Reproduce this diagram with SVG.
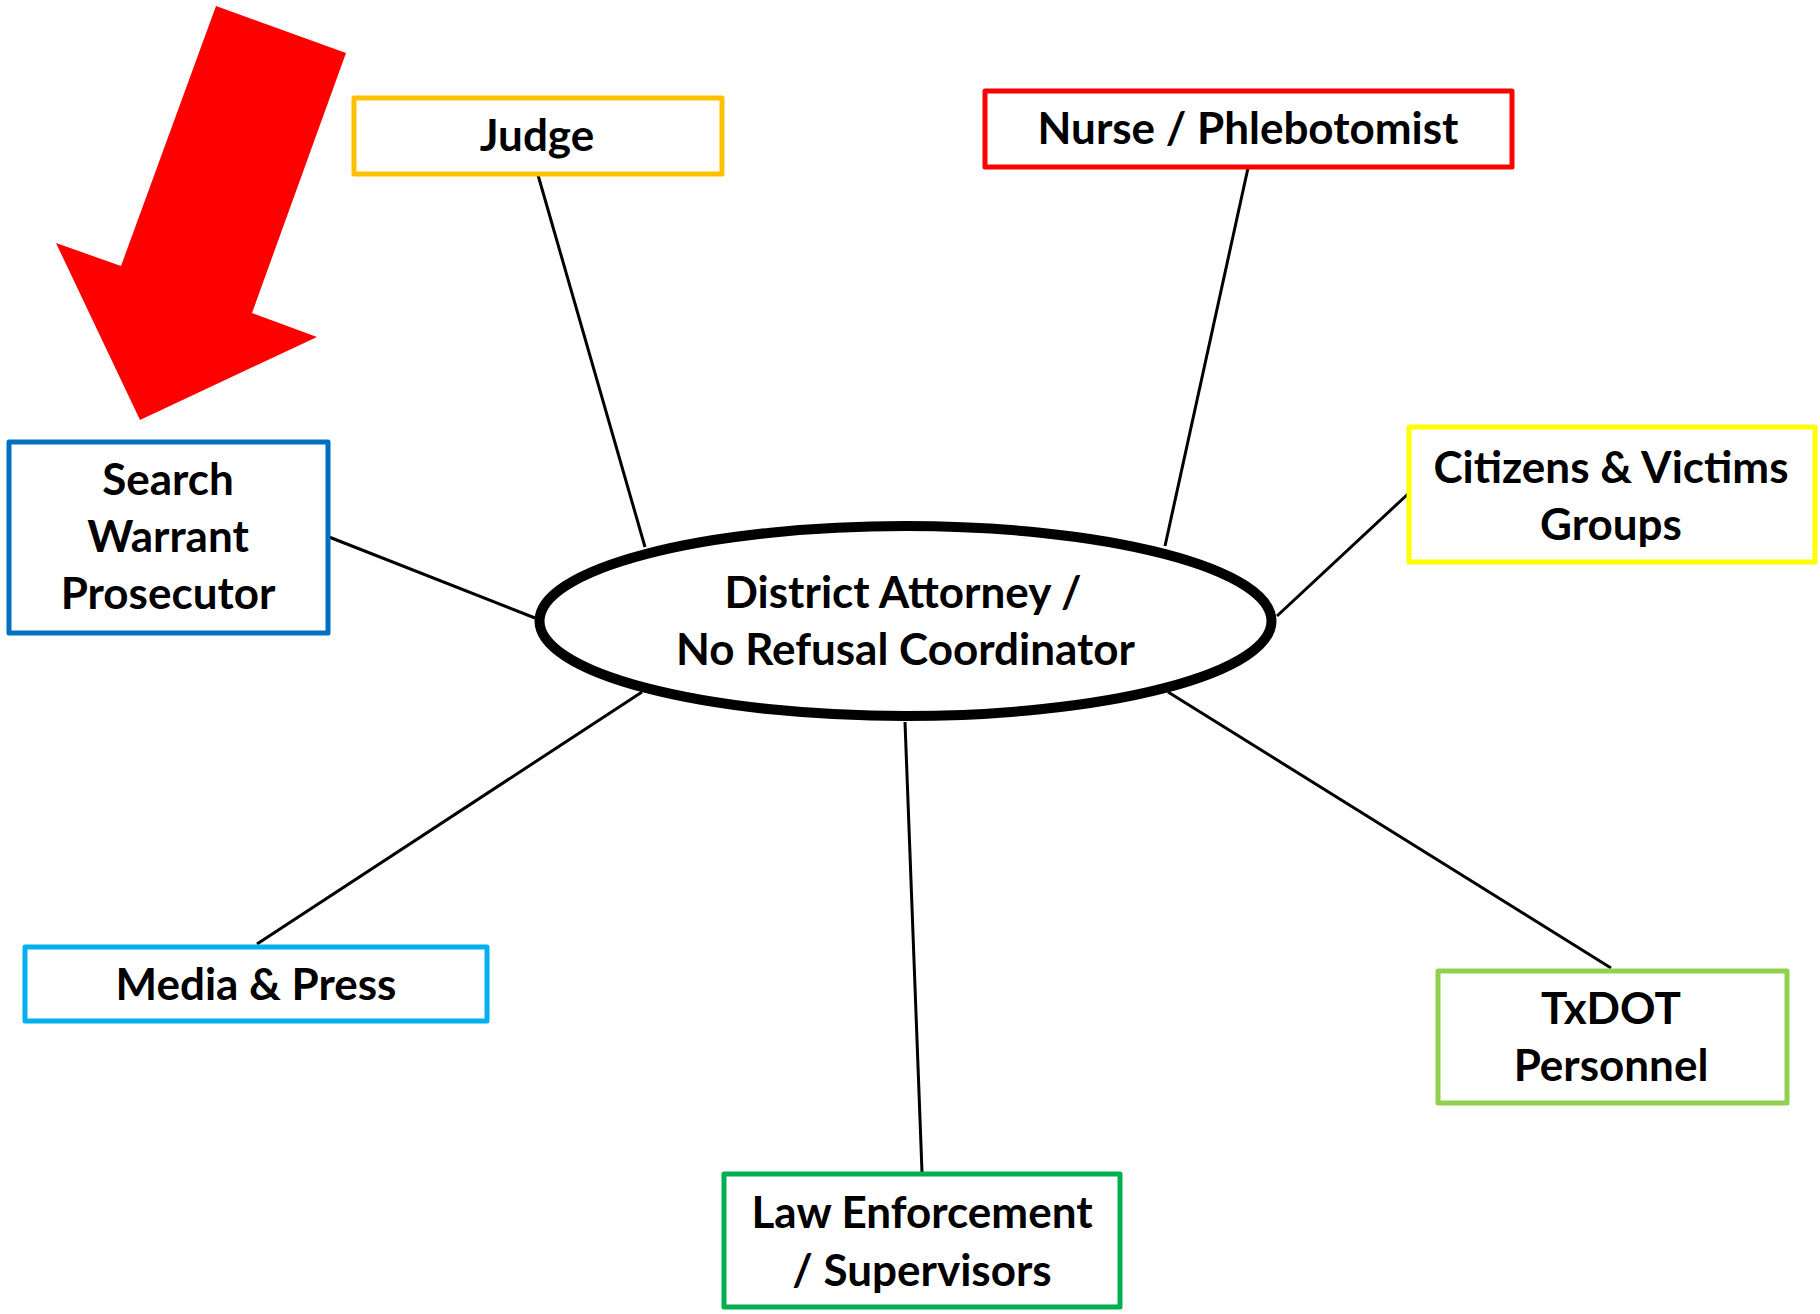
<svg xmlns="http://www.w3.org/2000/svg" width="1820" height="1314" viewBox="0 0 1820 1314">
<style>
.box{fill:#fff;stroke-width:5;stroke-linejoin:round}
.t{font-family:Lato,"Open Sans","Liberation Sans",sans-serif;font-weight:bold;font-size:44px;fill:#000;text-anchor:middle}
.c{stroke:#000;stroke-width:3;fill:none}
</style>
<rect width="1820" height="1314" fill="#fff"/>
<g id="arrow">
<polygon points="216,6 346,53 252,313 317,337 140,420 56,243 121,266" fill="#FF0000"/>
</g>
<g id="connectors">
<line class="c" x1="538" y1="175" x2="645" y2="547"/>
<line class="c" x1="1248" y1="168" x2="1165" y2="546"/>
<line class="c" x1="1409" y1="493" x2="1277" y2="616"/>
<line class="c" x1="329" y1="537" x2="535" y2="618"/>
<line class="c" x1="257" y1="944" x2="642" y2="692"/>
<line class="c" x1="905" y1="722" x2="922" y2="1172"/>
<line class="c" x1="1168" y1="692" x2="1611" y2="968"/>
</g>
<g id="center">
<ellipse cx="905.5" cy="621" rx="366" ry="95" fill="#fff" stroke="#000" stroke-width="10"/>
<text class="t" x="903" y="608">District Attorney /</text>
<text class="t" x="905.5" y="665">No Refusal Coordinator</text>
</g>
<g id="judge">
<rect class="box" x="354" y="98" width="368" height="76" stroke="#FFC000"/>
<text class="t" x="537" y="151">Judge</text>
</g>
<g id="nurse">
<rect class="box" x="985" y="91" width="527" height="76" stroke="#FF0000"/>
<text class="t" x="1248" y="144">Nurse / Phlebotomist</text>
</g>
<g id="citizens">
<rect class="box" x="1409" y="427" width="406" height="135" stroke="#FFFF00"/>
<text class="t" x="1611" y="482.5">Citizens &amp; Victims</text>
<text class="t" x="1611" y="540">Groups</text>
</g>
<g id="search">
<rect class="box" x="9" y="442" width="319" height="191" stroke="#0070C0"/>
<text class="t" x="168" y="495">Search</text>
<text class="t" x="168" y="552">Warrant</text>
<text class="t" x="168" y="609">Prosecutor</text>
</g>
<g id="media">
<rect class="box" x="25" y="947" width="462" height="74" stroke="#00B0F0"/>
<text class="t" x="256" y="1000">Media &amp; Press</text>
</g>
<g id="law">
<rect class="box" x="724" y="1174" width="396" height="133" stroke="#00B050"/>
<text class="t" x="922" y="1228">Law Enforcement</text>
<text class="t" x="922" y="1286">/ Supervisors</text>
</g>
<g id="txdot">
<rect class="box" x="1438" y="971" width="349" height="132" stroke="#92D050"/>
<text class="t" x="1611" y="1024">TxDOT</text>
<text class="t" x="1611" y="1081">Personnel</text>
</g>
</svg>
